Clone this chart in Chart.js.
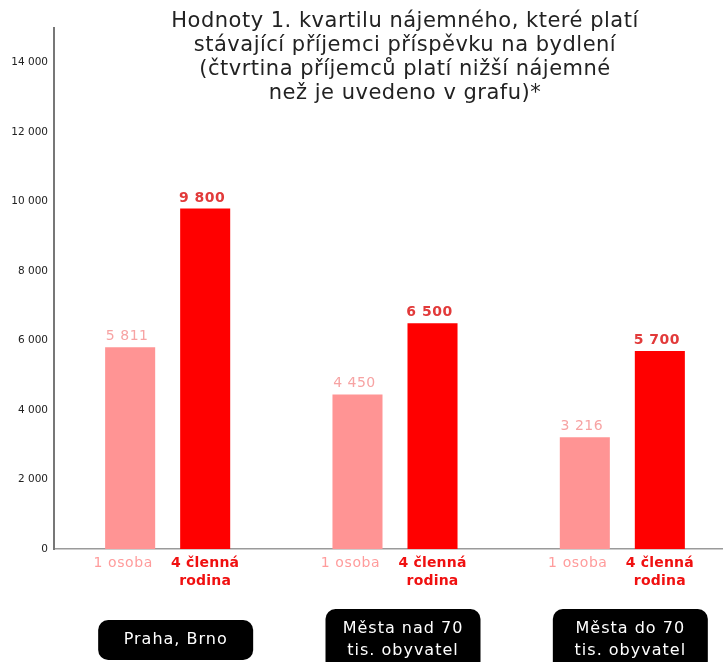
<!DOCTYPE html>
<html>
<head>
<meta charset="utf-8">
<script src="https://cdn.jsdelivr.net/npm/chart.js@4.4.1/dist/chart.umd.min.js"></script>
<style>
  html, body { margin: 0; padding: 0; background: #fff; overflow: hidden; }
  #wrap { position: absolute; left: 0; top: 0; width: 736px; height: 662px; }
</style>
</head>
<body>
<div id="wrap"><canvas id="rentChart"></canvas></div>
<script>
// data
const groups = [['Praha, Brno'], ['Města nad 70', 'tis. obyvatel'], ['Města do 70', 'tis. obyvatel']];
const seriesNames = [['1 osoba'], ['4 členná', 'rodina']];
const singleValues = [5811, 4450, 3216];
const familyValues = [9800, 6500, 5700];
const yTicks = [0, 2000, 4000, 6000, 8000, 10000, 12000, 14000];
const titleLines = [
    'Hodnoty 1. kvartilu nájemného, které platí',
    'stávající příjemci příspěvku na bydlení',
    '(čtvrtina příjemců platí nižší nájemné',
    'než je uvedeno v grafu)*'
];

const barColors = ['#ff9494', '#ff0000'];
const valueColors = ['#f7a3a3', '#e23a3a'];
const nameColors = ['#ff9c9c', '#f01010'];

function fmt(v) {
    return v.toString().replace(/\B(?=(\d{3})+(?!\d))/g, ' ');
}

// labels above bars, names under bars, black group boxes, title
const decorations = {
    id: 'decorations',
    afterDatasetsDraw(chart) {
        const ctx = chart.ctx;
        const bottom = chart.chartArea.bottom;
        ctx.save();
        ctx.textAlign = 'center';
        chart.data.datasets.forEach((ds, di) => {
            const meta = chart.getDatasetMeta(di);
            meta.data.forEach((bar, i) => {
                ctx.fillStyle = valueColors[di];
                ctx.font = (di === 1 ? 'bold ' : '') + '14px "DejaVu Sans"';
                ctx.letterSpacing = '0.5px';
                ctx.textBaseline = 'alphabetic';
                ctx.fillText(fmt(ds.data[i]), bar.x - 3, bar.y - 7);

                // the "1 osoba" names sit a bit left of their bars in the original
                const nx = di === 0 ? bar.x - 7 : bar.x;
                ctx.fillStyle = nameColors[di];
                ctx.font = (di === 1 ? 'bold ' : '') + '14px "DejaVu Sans"';
                ctx.letterSpacing = di === 0 ? '0.6px' : '0.2px';
                ctx.textBaseline = 'middle';
                seriesNames[di].forEach((line, li) => {
                    ctx.fillText(line, nx, bottom + 14 + li * 18);
                });
            });
        });

        // group boxes
        const xScale = chart.scales.x;
        ctx.font = '16px "DejaVu Sans"';
        ctx.letterSpacing = '1px';
        groups.forEach((lines, i) => {
            const cx = xScale.getPixelForValue(i) + 8;
            const cy = 640;
            const h = lines.length * 22 + 18;
            const w = 155;
            ctx.fillStyle = '#000';
            ctx.beginPath();
            ctx.roundRect(cx - w / 2, cy - h / 2, w, h, 10);
            ctx.fill();
            ctx.fillStyle = '#fff';
            ctx.textBaseline = 'middle';
            lines.forEach((line, li) => {
                ctx.fillText(line, cx, cy + (li - (lines.length - 1) / 2) * 22);
            });
        });

        // title
        ctx.letterSpacing = '0.5px';
        ctx.fillStyle = '#222';
        ctx.font = '21px "DejaVu Sans"';
        titleLines.forEach((line, li) => {
            ctx.fillText(line, 405, 22 + li * 23.7);
        });
        ctx.restore();
    }
};

const ctx = document.getElementById('rentChart').getContext('2d');
const rentChart = new Chart(ctx, {
    type: 'bar',
    data: {
        labels: groups.map(g => g.join(' ')),
        datasets: [
            { label: seriesNames[0].join(' '), data: singleValues, backgroundColor: barColors[0] },
            { label: seriesNames[1].join(' '), data: familyValues, backgroundColor: barColors[1] }
        ]
    },
    options: {
        responsive: true,
        maintainAspectRatio: false,
        animation: false,
        events: [],
        layout: { padding: { top: 28, bottom: 105, left: 0, right: 0 } },
        datasets: {
            bar: { categoryPercentage: 0.66, barPercentage: 0.667 }
        },
        plugins: {
            legend: { display: false },
            tooltip: { enabled: false }
        },
        scales: {
            x: {
                grid: { display: false },
                border: { display: true, color: '#9a9a9a', width: 1.5 },
                ticks: { display: false }
            },
            y: {
                min: 0,
                max: 15000,
                grid: { display: false, drawTicks: false },
                border: { display: true, color: '#777', width: 2 },
                afterBuildTicks: scale => { scale.ticks = yTicks.map(v => ({ value: v })); },
                afterFit: scale => { scale.width = 54; },
                ticks: {
                    color: '#222',
                    padding: 6,
                    font: { family: 'DejaVu Sans', size: 10.5 },
                    callback: v => fmt(v)
                }
            }
        }
    },
    plugins: [decorations]
});
</script>
</body>
</html>
